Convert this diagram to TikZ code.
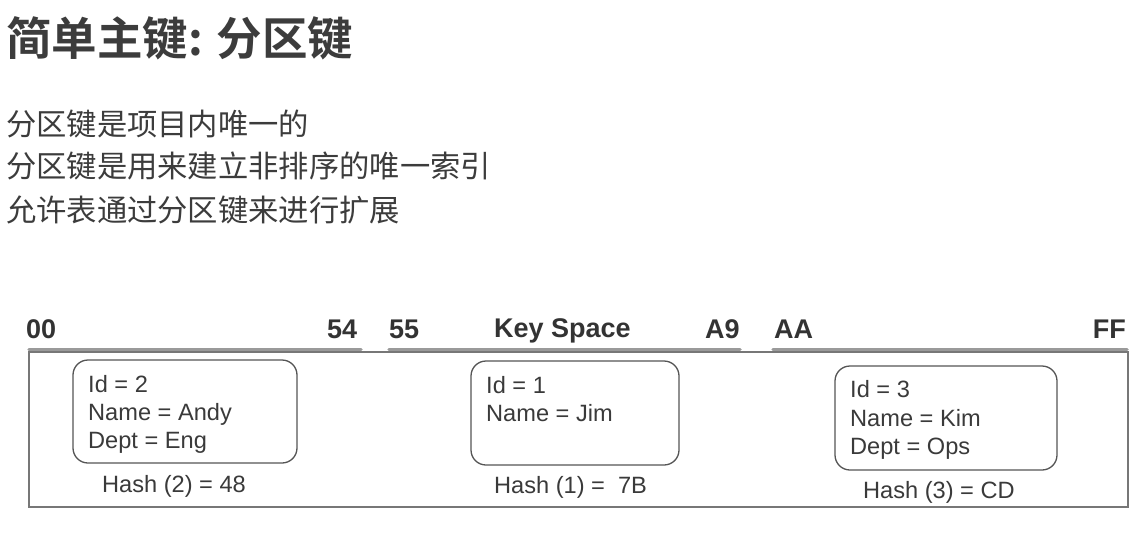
\documentclass[tikz,border=0pt]{standalone}
\usepackage{fontspec}
\setmainfont{Liberation Sans}
\newfontfamily\cjk{Noto Sans CJK SC}
\newfontfamily\cjkb{Noto Sans CJK SC Bold}
\begin{document}
\begin{tikzpicture}[x=1pt,y=-1pt,
  txt/.style={text=txtgray,inner sep=0pt,anchor=base west,font=\fontsize{23.6}{27}\selectfont},
  lbl/.style={text=lblgray,inner sep=0pt,font=\fontsize{27}{31}\selectfont\bfseries},
  rec/.style={draw=boxgray,line width=1.3pt,rounded corners=15pt},
  body/.style={text=bodygray,inner sep=0pt,anchor=west,font=\cjk\fontsize{30.3}{36}\selectfont},
  barseg/.style={draw=bargray,line width=3.5pt,line cap=round}]
\definecolor{txtgray}{HTML}{3A3A3A}
\definecolor{lblgray}{HTML}{333333}
\definecolor{boxgray}{HTML}{555555}
\definecolor{bodygray}{HTML}{3C3C3C}
\definecolor{bargray}{HTML}{9A9A9A}
\definecolor{edgegray}{HTML}{777777}
\useasboundingbox[fill=white] (0,0) rectangle (1144,536);
% title
\node[inner sep=0pt,anchor=west,text=bodygray,font=\cjkb\fontsize{45.5}{52}\selectfont] (title) at (6,38) {简单主键: 分区键};
\node[body] (b1) at (6,124) {分区键是项目内唯一的};
\node[body] (b2) at (6,166) {分区键是用来建立非排序的唯一索引};
\node[body] (b3) at (6,210) {允许表通过分区键来进行扩展};
% key space frame
\draw[draw=edgegray,line width=1.2pt] (29,352) rectangle (1128,507);
\draw[barseg] (29,349.5) -- (361,349.5);
\draw[barseg] (389,349.5) -- (740,349.5);
\draw[barseg] (773,349.5) -- (1127,349.5);
\node[lbl,anchor=base west] (l00) at (26,338) {00};
\node[lbl,anchor=base west] (l54) at (327,338) {54};
\node[lbl,anchor=base west] (l55) at (389,338) {55};
\node[lbl,anchor=base west] (lks) at (494,337) {Key Space};
\node[lbl,anchor=base west] (la9) at (705,338) {A9};
\node[lbl,anchor=base west] (laa) at (774,338) {AA};
\node[lbl,anchor=base east] (lff) at (1126,338) {FF};
% items
\draw[rec] (73,360) rectangle (297,463);
\node[txt] (i1a) at (88,392) {Id = 2};
\node[txt] (i1b) at (88,420) {Name = Andy};
\node[txt] (i1c) at (88,448) {Dept = Eng};
\node[txt] (h1) at (102,492) {Hash (2) = 48};
\draw[rec] (471,361) rectangle (679,465);
\node[txt] (i2a) at (486,393) {Id = 1};
\node[txt] (i2b) at (486,421) {Name = Jim};
\node[txt] (h2) at (494,493) {Hash (1) =~~7B};
\draw[rec] (835,366) rectangle (1057,470);
\node[txt] (i3a) at (850,397) {Id = 3};
\node[txt] (i3b) at (850,426) {Name = Kim};
\node[txt] (i3c) at (850,454) {Dept = Ops};
\node[txt] (h3) at (863,498) {Hash (3) = CD};
\end{tikzpicture}
\end{document}
